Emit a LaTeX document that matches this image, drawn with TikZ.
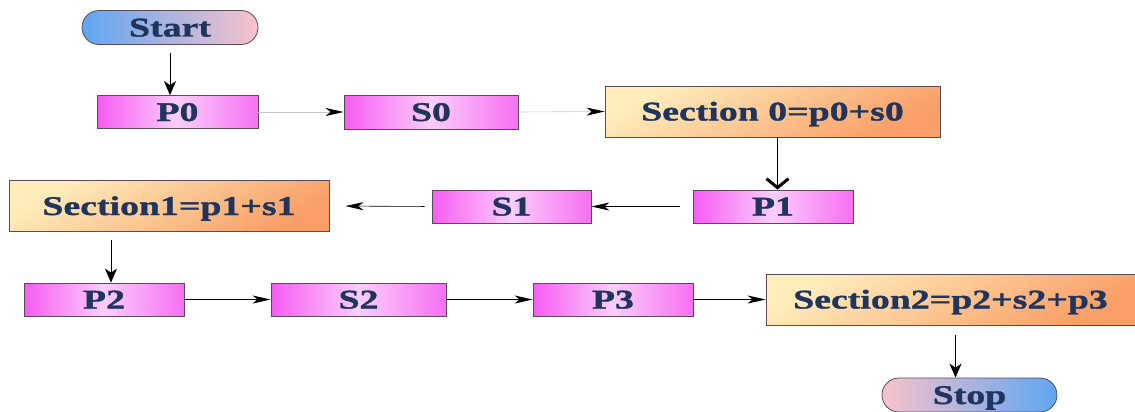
\documentclass[tikz,border=0pt]{standalone}
\usepackage{fontspec}
\setmainfont{Liberation Serif}[FakeStretch=1.4, BoldFeatures={FakeBold=1.3}]
\usetikzlibrary{arrows.meta,shapes.misc}
\definecolor{txt}{HTML}{1F355E}
\definecolor{pkA}{HTML}{F65CF3}
\definecolor{pkB}{HTML}{FCCDFB}
\definecolor{pkC}{HTML}{F570F2}
\definecolor{orA}{HTML}{FFEDBC}
\definecolor{orB}{HTML}{F99E66}
\definecolor{blA}{HTML}{5FA6F2}
\definecolor{blB}{HTML}{F8C2CB}
\definecolor{edge}{HTML}{5A4A5A}
\tikzset{
  base/.style={draw=edge, line width=0.8pt, inner sep=0pt, text=txt,
    text height=18pt, text depth=0pt,
    font=\fontsize{27}{30}\selectfont\bfseries},
  pbox/.style={base, minimum width=160pt, minimum height=33pt,
    left color=pkA, right color=pkC, middle color=pkB},
  sbox/.style={base, minimum height=51pt,
    top color=orA, bottom color=orB, shading angle=30},
  term/.style={base, minimum width=176pt, minimum height=34pt, rounded corners=17pt},
  startc/.style={term, left color=blA, right color=blB},
  stopc/.style={term, left color=blB, right color=blA},
  harr/.style={-{Stealth[length=18pt,width=8pt,inset=5pt,color=black]}, line width=0.6pt},
  varr/.style={-{Stealth[length=14pt,width=12pt,inset=4pt]}, line width=0.8pt},
  garr/.style={harr, draw=black!22}
}
\begin{document}
\begin{tikzpicture}[x=1pt,y=-1pt]
\useasboundingbox (0,0) rectangle (1135,412);
\node[startc] (start) at (170,27.5) {Start};
\node[pbox, minimum width=161pt] (p0) at (177.5,112) {P0};
\node[pbox, minimum width=174pt, minimum height=34pt] (s0) at (431,112) {S0};
\node[sbox, minimum width=335pt] (sec0) at (772.5,111.5) {Section 0=p0+s0};
\node[pbox] (p1) at (773,206.5) {P1};
\node[pbox, minimum width=159pt] (s1) at (511.5,206.5) {S1};
\node[sbox, minimum width=320pt] (sec1) at (169,206) {Section1=p1+s1};
\node[pbox] (p2) at (104,299.5) {P2};
\node[pbox, minimum width=175pt] (s2) at (358.5,299.5) {S2};
\node[pbox] (p3) at (613,299.5) {P3};
\node[sbox, minimum width=369pt] (sec2) at (950.5,299.5) {Section2=p2+s2+p3};
\node[stopc, minimum width=175pt] (stop) at (969.5,395) {Stop};

\draw[varr, shorten <=8pt] (start.south) -- (start.south |- p0.north);
\draw[garr] (p0.east) -- (s0.west);
\draw[garr] (s0.east) -- (sec0.west);
\draw[-{Straight Barb[length=9pt,width=22pt,line width=3pt]}, line width=1pt]
  ([xshift=5pt]sec0.south) -- ([xshift=5pt]sec0.south |- p1.north);
\draw[harr, shorten <=13pt] (p1.west) -- (s1.east);
\draw[harr, shorten <=7pt, shorten >=16pt] (s1.west) -- (sec1.east);
\draw[varr, shorten <=8pt] ([xshift=7pt]p2.north |- sec1.south) -- ([xshift=7pt]p2.north);
\draw[harr] (p2.east) -- (s2.west);
\draw[harr] (s2.east) -- (p3.west);
\draw[harr] (p3.east) -- (sec2.west);
\draw[varr, shorten <=10pt] ([xshift=5pt]sec2.south) -- ([xshift=5pt]sec2.south |- stop.north);
\end{tikzpicture}
\end{document}
